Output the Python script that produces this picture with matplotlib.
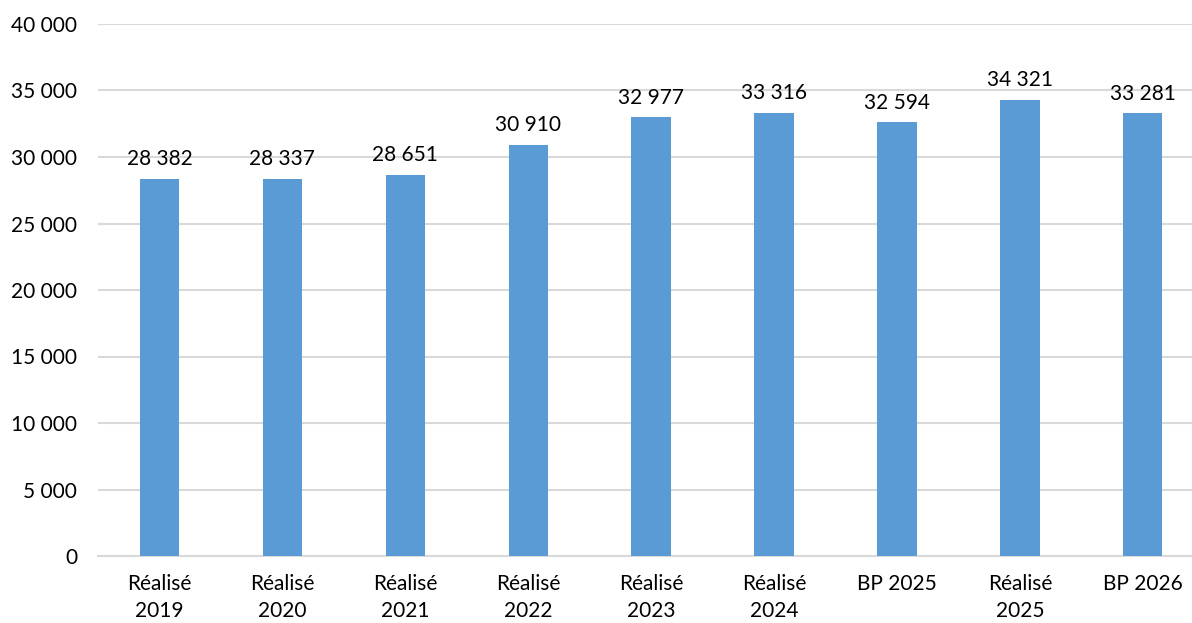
import matplotlib.pyplot as plt
from matplotlib.ticker import FuncFormatter

categories = ['Réalisé\n2019', 'Réalisé\n2020', 'Réalisé\n2021', 'Réalisé\n2022',
              'Réalisé\n2023', 'Réalisé\n2024', 'BP 2025', 'Réalisé\n2025', 'BP 2026']
values = [28382, 28337, 28651, 30910, 32977, 33316, 32594, 34321, 33281]
yticks = list(range(0, 40001, 5000))

plt.rcParams['font.family'] = ['Lato', 'DejaVu Sans']

def fmt(v, pos=None):
	return '{:,}'.format(int(v)).replace(',', ' ')

fig = plt.figure(figsize=(11.92, 6.23), dpi=100)
ax = fig.add_axes([98/1192, 1 - 556/623, 1 - 98/1192, (556 - 24)/623])

x = range(len(categories))
bars = ax.bar(x, values, width=0.32, color='#5B9BD5', zorder=3)

for xi, v in zip(x, values):
	ax.annotate(fmt(v), (xi, v), xytext=(0, 7), textcoords='offset points',
				ha='center', va='bottom', fontsize=15, color='#000000')

ax.set_ylim(0, 40000)
ax.set_xlim(-0.5, 8.4)
ax.set_yticks(yticks)
ax.yaxis.set_major_formatter(FuncFormatter(fmt))
ax.set_xticks(list(x))
ax.set_xticklabels(categories, fontsize=15, linespacing=1.45)
ax.tick_params(axis='y', labelsize=15, length=0, pad=15)
ax.tick_params(axis='x', length=0, pad=13)

ax.grid(axis='y', color='#D9D9D9', linewidth=1.5, zorder=0)
for s in ['top', 'right', 'left']:
	ax.spines[s].set_visible(False)
ax.spines['bottom'].set_color('#D9D9D9')
ax.spines['bottom'].set_linewidth(1.5)

fig.savefig('out.png', dpi=100)
